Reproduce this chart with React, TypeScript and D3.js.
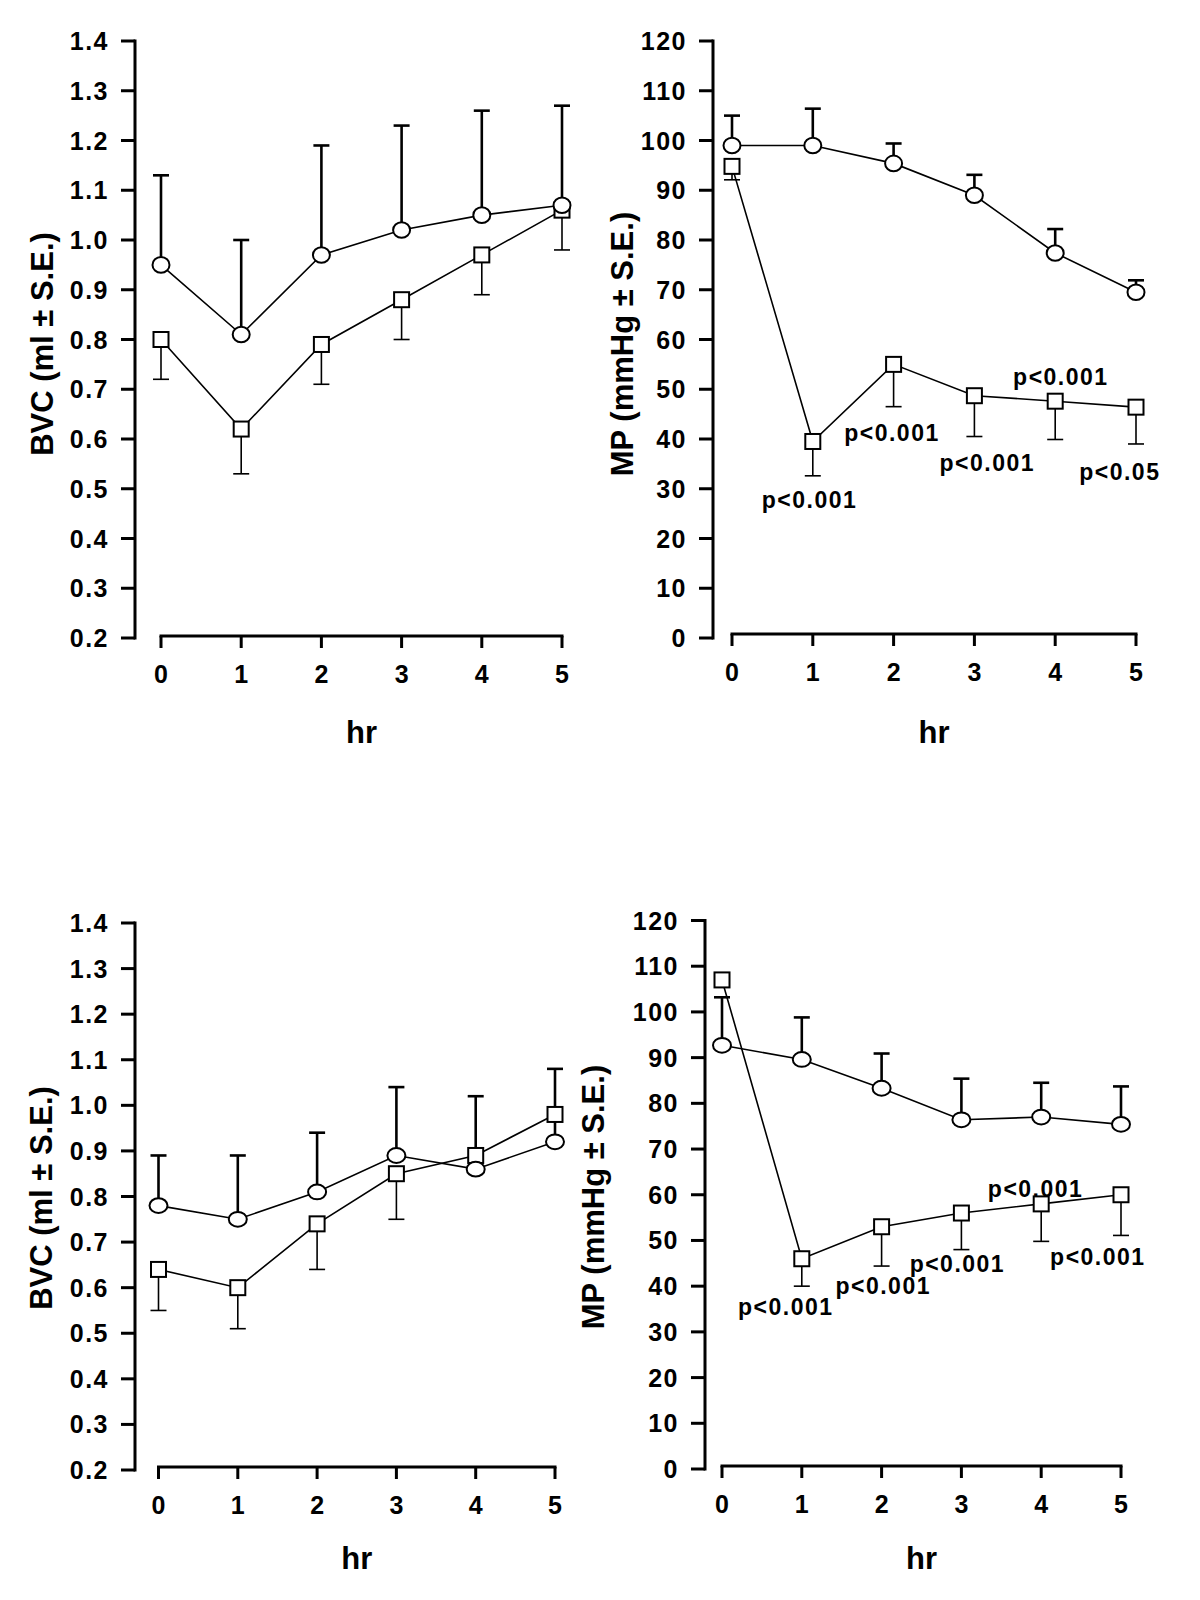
import React from "react";
import * as d3 from "d3";

// ---------- data ----------
const hours = [0, 1, 2, 3, 4, 5];
const bvcTicks = [0.2, 0.3, 0.4, 0.5, 0.6, 0.7, 0.8, 0.9, 1.0, 1.1, 1.2, 1.3, 1.4];
const mpTicks = [0, 10, 20, 30, 40, 50, 60, 70, 80, 90, 100, 110, 120];

// Top-left: BVC
const bvcTopCircle = [0.95, 0.81, 0.97, 1.02, 1.05, 1.07];
const bvcTopCircleErr = [1.13, 1.0, 1.19, 1.23, 1.26, 1.27];
const bvcTopSquare = [0.8, 0.62, 0.79, 0.88, 0.97, 1.06];
const bvcTopSquareErr = [0.72, 0.53, 0.71, 0.8, 0.89, 0.98];

// Top-right: MP
const mpTopCircle = [99, 99, 95.4, 89, 77.4, 69.5];
const mpTopCircleErr = [105, 106.4, 99.4, 93.1, 82.2, 71.9];
const mpTopSquare = [94.8, 39.5, 55, 48.7, 47.6, 46.4];
const mpTopSquareErr = [92.1, 32.6, 46.5, 40.5, 39.9, 39];
const mpTopNoteText = ["p<0.001", "p<0.001", "p<0.001", "p<0.001", "p<0.05"];
const mpTopNoteHour = [0.96, 1.98, 3.16, 4.07, 4.8];
const mpTopNoteValue = [27.8, 41.3, 35.2, 52.6, 33.5];

// Bottom-left: BVC
const bvcBotCircle = [0.78, 0.75, 0.81, 0.89, 0.86, 0.92];
const bvcBotCircleErr = [0.89, 0.89, 0.94, 1.04, 1.02, 1.08];
const bvcBotSquare = [0.64, 0.6, 0.74, 0.85, 0.89, 0.98];
const bvcBotSquareErr: (number | null)[] = [0.55, 0.51, 0.64, 0.75, null, null];

// Bottom-right: MP
const mpBotCircle = [92.7, 89.6, 83.3, 76.4, 77, 75.4];
const mpBotCircleErr = [103.2, 98.8, 90.9, 85.4, 84.5, 83.7];
const mpBotSquare = [107, 46, 53, 56, 58, 60];
const mpBotSquareErr: (number | null)[] = [null, 40, 44.4, 48, 49.8, 51.1];
const mpBotNoteText = ["p<0.001", "p<0.001", "p<0.001", "p<0.001", "p<0.001"];
const mpBotNoteHour = [0.8, 2.02, 2.95, 3.93, 4.71];
const mpBotNoteValue = [35.5, 40, 45, 61.4, 46.4];

// ---------- drawing ----------
const FONT = "'Liberation Sans', Arial, Helvetica, sans-serif";

type Layout = {
  axisX: number;
  x0: number;
  x1: number;
  yTop: number;
  yBot: number;
  xAxisY: number;
  titleX: number;
  titleY: number;
  hrY: number;
  rx: number;
  ry: number;
};

type PanelProps = {
  layout: Layout;
  domain: [number, number];
  ticks: number[];
  fmt: (v: number) => string;
  yTitle: string;
  circle: number[];
  circleErr: (number | null)[];
  square: number[];
  squareErr: (number | null)[];
  noteText?: string[];
  noteHour?: number[];
  noteValue?: number[];
};

function Panel(p: PanelProps) {
  const L = p.layout;
  const x = d3.scaleLinear().domain([0, 5]).range([L.x0, L.x1]);
  const y = d3.scaleLinear().domain(p.domain).range([L.yBot, L.yTop]);
  const line = d3
    .line<number>()
    .x((_, i) => x(hours[i]))
    .y((d) => y(d));
  const cap = 8;
  const sq = 15;
  return (
    <g>
      {/* y axis */}
      <line x1={L.axisX} x2={L.axisX} y1={y(p.domain[1]) - 1.5} y2={y(p.domain[0]) + 1.5} stroke="#000" strokeWidth={3} />
      {p.ticks.map((t) => (
        <g key={"yt" + t}>
          <line x1={L.axisX - 14} x2={L.axisX} y1={y(t)} y2={y(t)} stroke="#000" strokeWidth={3} />
          <text
            x={L.axisX - 26}
            y={y(t) + 9}
            textAnchor="end"
            fontFamily={FONT}
            fontWeight="bold"
            fontSize={25}
            letterSpacing={1.5}
            fill="#000"
          >
            {p.fmt(t)}
          </text>
        </g>
      ))}
      {/* x axis */}
      <line x1={x(0) - 1.5} x2={x(5) + 1.5} y1={L.xAxisY} y2={L.xAxisY} stroke="#000" strokeWidth={3} />
      {hours.map((h) => (
        <g key={"xt" + h}>
          <line x1={x(h)} x2={x(h)} y1={L.xAxisY} y2={L.xAxisY + 12} stroke="#000" strokeWidth={3} />
          <text
            x={x(h)}
            y={L.xAxisY + 47}
            textAnchor="middle"
            fontFamily={FONT}
            fontWeight="bold"
            fontSize={25}
            fill="#000"
          >
            {h}
          </text>
        </g>
      ))}
      {/* titles */}
      <text
        x={(x(0) + x(5)) / 2}
        y={L.hrY}
        textAnchor="middle"
        fontFamily={FONT}
        fontWeight="bold"
        fontSize={31}
        fill="#000"
      >
        hr
      </text>
      <text
        transform={`translate(${L.titleX},${L.titleY}) rotate(-90)`}
        textAnchor="middle"
        dominantBaseline="central"
        fontFamily={FONT}
        fontWeight="bold"
        fontSize={31}
        fill="#000"
      >
        {p.yTitle}
      </text>
      {/* lines */}
      <path d={line(p.circle) || ""} fill="none" stroke="#000" strokeWidth={1.6} />
      <path d={line(p.square) || ""} fill="none" stroke="#000" strokeWidth={1.6} />
      {/* error bars */}
      {p.circle.map((v, i) =>
        p.circleErr[i] == null ? null : (
          <g key={"ce" + i}>
            <line x1={x(hours[i])} x2={x(hours[i])} y1={y(v)} y2={y(p.circleErr[i] as number)} stroke="#000" strokeWidth={2.6} />
            <line
              x1={x(hours[i]) - cap}
              x2={x(hours[i]) + cap}
              y1={y(p.circleErr[i] as number)}
              y2={y(p.circleErr[i] as number)}
              stroke="#000"
              strokeWidth={2.6}
            />
          </g>
        )
      )}
      {p.square.map((v, i) =>
        p.squareErr[i] == null ? null : (
          <g key={"se" + i}>
            <line x1={x(hours[i])} x2={x(hours[i])} y1={y(v)} y2={y(p.squareErr[i] as number)} stroke="#000" strokeWidth={1.6} />
            <line
              x1={x(hours[i]) - cap}
              x2={x(hours[i]) + cap}
              y1={y(p.squareErr[i] as number)}
              y2={y(p.squareErr[i] as number)}
              stroke="#000"
              strokeWidth={1.6}
            />
          </g>
        )
      )}
      {/* markers */}
      {p.square.map((v, i) => (
        <rect
          key={"sq" + i}
          x={x(hours[i]) - sq / 2}
          y={y(v) - sq / 2}
          width={sq}
          height={sq}
          fill="#fff"
          stroke="#000"
          strokeWidth={2}
        />
      ))}
      {p.circle.map((v, i) => (
        <ellipse key={"ci" + i} cx={x(hours[i])} cy={y(v)} rx={L.rx} ry={L.ry} fill="#fff" stroke="#000" strokeWidth={2} />
      ))}
      {/* annotations */}
      {(p.noteText || []).map((t, i) => (
        <text
          key={"n" + i}
          x={x(p.noteHour![i])}
          y={y(p.noteValue![i])}
          dy="0.36em"
          textAnchor="middle"
          fontFamily={FONT}
          fontWeight="bold"
          fontSize={23}
          letterSpacing={1.5}
          fill="#000"
        >
          {t}
        </text>
      ))}
    </g>
  );
}

const fmtBvc = (v: number) => v.toFixed(1);
const fmtMp = (v: number) => String(Math.round(v));

export default function App() {
  return (
    <svg
      width={1200}
      height={1600}
      viewBox="0 0 1200 1600"
      style={{ position: "absolute", left: 0, top: 0, background: "#fff", display: "block" }}
    >
      <rect x={0} y={0} width={1200} height={1600} fill="#fff" />
      <Panel
        layout={{ axisX: 135, x0: 161, x1: 562, yTop: 41, yBot: 638, xAxisY: 636, titleX: 42, titleY: 344, hrY: 743, rx: 8.5, ry: 7.8 }}
        domain={[0.2, 1.4]}
        ticks={bvcTicks}
        fmt={fmtBvc}
        yTitle="BVC (ml ± S.E.)"
        circle={bvcTopCircle}
        circleErr={bvcTopCircleErr}
        square={bvcTopSquare}
        squareErr={bvcTopSquareErr}
      />
      <Panel
        layout={{ axisX: 713, x0: 732, x1: 1136, yTop: 41, yBot: 638, xAxisY: 634, titleX: 622, titleY: 344, hrY: 743, rx: 8.5, ry: 7.8 }}
        domain={[0, 120]}
        ticks={mpTicks}
        fmt={fmtMp}
        yTitle="MP (mmHg ± S.E.)"
        circle={mpTopCircle}
        circleErr={mpTopCircleErr}
        square={mpTopSquare}
        squareErr={mpTopSquareErr}
        noteText={mpTopNoteText}
        noteHour={mpTopNoteHour}
        noteValue={mpTopNoteValue}
      />
      <Panel
        layout={{ axisX: 135, x0: 158.5, x1: 555, yTop: 923, yBot: 1470, xAxisY: 1467, titleX: 41, titleY: 1198, hrY: 1569, rx: 9, ry: 7.4 }}
        domain={[0.2, 1.4]}
        ticks={bvcTicks}
        fmt={fmtBvc}
        yTitle="BVC (ml ± S.E.)"
        circle={bvcBotCircle}
        circleErr={bvcBotCircleErr}
        square={bvcBotSquare}
        squareErr={bvcBotSquareErr}
      />
      <Panel
        layout={{ axisX: 705, x0: 722, x1: 1121, yTop: 920.5, yBot: 1469, xAxisY: 1466, titleX: 593, titleY: 1197, hrY: 1569, rx: 9, ry: 7.4 }}
        domain={[0, 120]}
        ticks={mpTicks}
        fmt={fmtMp}
        yTitle="MP (mmHg ± S.E.)"
        circle={mpBotCircle}
        circleErr={mpBotCircleErr}
        square={mpBotSquare}
        squareErr={mpBotSquareErr}
        noteText={mpBotNoteText}
        noteHour={mpBotNoteHour}
        noteValue={mpBotNoteValue}
      />
    </svg>
  );
}
